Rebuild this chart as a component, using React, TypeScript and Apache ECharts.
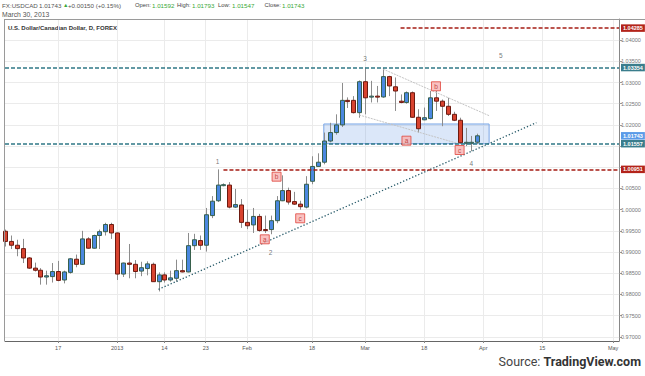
import { useEffect, useRef } from 'react';
import * as echarts from 'echarts';

// ---------- data ----------
const START = '2012-12-04';
const END = '2013-05-02';
const MISSING_DAYS = ['2012-12-25', '2013-01-01', '2013-03-11'];

function tradingDays(start: string, end: string, skip: string[]): string[] {
  const out: string[] = [];
  const d = new Date(start + 'T00:00:00Z');
  const e = new Date(end + 'T00:00:00Z');
  while (d <= e) {
    const wd = d.getUTCDay();
    const s = d.toISOString().slice(0, 10);
    if (wd !== 0 && wd !== 6 && skip.indexOf(s) < 0) out.push(s);
    d.setUTCDate(d.getUTCDate() + 1);
  }
  return out;
}
const dates = tradingDays(START, END, MISSING_DAYS);

const tickDates = ['2012-12-17', '2013-01-02', '2013-01-14', '2013-01-23', '2013-02-01', '2013-02-18', '2013-03-01', '2013-03-18', '2013-04-01', '2013-04-15', '2013-05-01'];
const tickLabels = ['17', '2013', '14', '23', 'Feb', '18', 'Mar', '18', 'Apr', '15', 'May'];

const yTicks = [0.97, 0.975, 0.98, 0.985, 0.99, 0.995, 1.0, 1.005, 1.01, 1.015, 1.02, 1.025, 1.03, 1.035, 1.04];
// tick labels hidden behind the price markers in the reference
const yLabelValues = [0.97, 0.975, 0.98, 0.985, 0.99, 0.995, 1.0, 1.005, 1.02, 1.025, 1.03, 1.035, 1.04];

const opens = [0.9949, 0.9925, 0.9916, 0.9908, 0.9886, 0.9862, 0.9857, 0.9841, 0.9842, 0.9854,
  0.9834, 0.9852, 0.9883, 0.9871, 0.9931, 0.9909, 0.9939, 0.9948, 0.9965, 0.9945,
  0.9848, 0.9874, 0.9871, 0.9855, 0.9861, 0.9871, 0.9830, 0.9846, 0.9834, 0.9838,
  0.9856, 0.9853, 0.9915, 0.9927, 0.9916, 0.9986, 1.0021, 1.0058, 1.0058, 1.0006,
  1.0011, 0.9970, 0.9964, 0.9984, 0.9953, 0.9953, 0.9974, 1.0021, 1.0045, 1.0019,
  1.0013, 1.0006, 1.0067, 1.0102, 1.0112, 1.0162, 1.0182, 1.0200, 1.0258, 1.0258,
  1.0229, 1.0302, 1.0266, 1.0268, 1.0266, 1.0314, 1.0290, 1.0256, 1.0253, 1.0276,
  1.0218, 1.0212, 1.0215, 1.0264, 1.0256, 1.0244, 1.0225, 1.0211, 1.0158, 1.0159,
  1.01592];
const closes = [0.9925, 0.9916, 0.9908, 0.9886, 0.9862, 0.9857, 0.9841, 0.9844, 0.9854, 0.9833,
  0.9853, 0.9884, 0.9871, 0.9931, 0.9909, 0.9939, 0.9948, 0.9965, 0.9945, 0.9848,
  0.9874, 0.9871, 0.9854, 0.9863, 0.9872, 0.9830, 0.9846, 0.9834, 0.9839, 0.9856,
  0.9853, 0.9915, 0.9929, 0.9916, 0.9988, 1.0020, 1.0058, 1.0059, 1.0006, 1.0012,
  0.9970, 0.9962, 0.9984, 0.9951, 0.9951, 0.9974, 1.0021, 1.0045, 1.0018, 1.0013,
  1.0007, 1.0060, 1.0102, 1.0112, 1.0162, 1.0182, 1.0200, 1.0258, 1.0255, 1.0229,
  1.0302, 1.0264, 1.0268, 1.0266, 1.0314, 1.0292, 1.0280, 1.0253, 1.0276, 1.0218,
  1.0191, 1.0217, 1.0264, 1.0256, 1.0244, 1.0225, 1.0211, 1.0158, 1.0159, 1.0159,
  1.01743];
const lows = [0.9913, 0.9907, 0.9890, 0.9874, 0.9860, 0.9854, 0.9823, 0.9823, 0.9828, 0.9831,
  0.9826, 0.9849, 0.9864, 0.9870, 0.9908, 0.9908, 0.9907, 0.9939, 0.9931, 0.9834,
  0.9841, 0.9838, 0.9838, 0.9843, 0.9845, 0.9830, 0.9807, 0.9828, 0.9830, 0.9830,
  0.9852, 0.9852, 0.9905, 0.9905, 0.9901, 0.9980, 1.0018, 1.0055, 1.0003, 1.0004,
  0.9957, 0.9954, 0.9945, 0.9948, 0.9945, 0.9942, 0.9968, 1.0020, 1.0012, 1.0011,
  1.0000, 1.0003, 1.0060, 1.0101, 1.0107, 1.0159, 1.0177, 1.0195, 1.0240, 1.0227,
  1.0217, 1.0225, 1.0253, 1.0253, 1.0264, 1.0268, 1.0233, 1.0251, 1.0250, 1.0217,
  1.0182, 1.0211, 1.0213, 1.0233, 1.0197, 1.0221, 1.0209, 1.01557, 1.0150, 1.0138,
  1.01547];
const highs = [0.9953, 0.9939, 0.9929, 0.9931, 0.9888, 0.9875, 0.9862, 0.9856, 0.9874, 0.9879,
  0.9856, 0.9886, 0.9894, 0.9950, 0.9935, 0.9941, 0.9953, 0.9969, 0.9969, 0.9946,
  0.9875, 0.9919, 0.9881, 0.9877, 0.9878, 0.9875, 0.9852, 0.9852, 0.9856, 0.9882,
  0.9882, 0.9945, 0.9943, 0.9939, 1.0004, 1.0032, 1.00951, 1.0062, 1.0065, 1.0049,
  1.0025, 1.0000, 1.0004, 0.9990, 0.9986, 0.9986, 1.0032, 1.0081, 1.0052, 1.0042,
  1.0021, 1.0079, 1.0126, 1.0133, 1.0182, 1.0205, 1.0225, 1.0299, 1.0265, 1.0268,
  1.0305, 1.03354, 1.0304, 1.0292, 1.0335, 1.0316, 1.0312, 1.0272, 1.0279, 1.0279,
  1.0237, 1.0241, 1.0280, 1.0280, 1.0260, 1.0264, 1.0231, 1.0217, 1.0193, 1.0174,
  1.01793];

// horizontal levels: value, start index (bar position)
const levelValues = [1.04285, 1.03354, 1.01557, 1.00951];
const levelStartIdx = [66.7, 0, 0, 36.8];
const levelKinds = ['red', 'teal', 'teal', 'red'];
const lastPrice = 1.01743;

// wave counts
const waveNames = ['1', '2', '3', '4', '5'];
const waveIdx = [36, 45, 61, 79, 84];
const wavePrice = [1.01132, 0.98984, 1.03556, 1.01078, 1.03627];

// corrective a-b-c markers
const abcNames = ['a', 'b', 'c', 'a', 'b', 'c'];
const abcIdx = [44, 46, 50, 68, 73, 77];
const abcPrice = [0.9930, 1.00778, 0.99796, 1.01628, 1.02912, 1.01408];

// drawn lines: [fromIdx, fromPrice, toIdx, toPrice]
const trendLine = [25.97, 0.9812, 89.77, 1.02053];
const wedgeUpper = [64.07, 1.0332, 81.86, 1.02218];
const wedgeLower = [60.01, 1.02234, 76.78, 1.0155];
const zoneBox = [53.81, 1.02022, 81.9, 1.01557];

// header quote
const headerSymbol = 'FX:USDCAD';
const headerChange = '+0.00150 (+0.15%)';
const headerFields = ['Open:', 'High:', 'Low:', 'Close:'];
const headerValues = ['1.01592', '1.01793', '1.01547', '1.01743'];

// ---------- styles ----------
const UP_FILL = '#4a88e0';
const UP_LINE = '#37604c';
const DN_FILL = '#d8432f';
const DN_LINE = '#6e1a10';
const WICK = '#8c8c8c';
const TEAL = '#2f7886';
const RED = '#a51d15';
const GREEN = '#3aa83a';
const FONT = '"Liberation Sans", Arial, sans-serif';

export default function App() {
  const ref = useRef<HTMLDivElement>(null);

  useEffect(() => {
    if (!ref.current) return;
    const chart = echarts.init(ref.current, undefined, { renderer: 'svg' });

    const candleData = opens.map((o, i) => [i, o, closes[i], lows[i], highs[i]]);
    const labelMap: Record<string, string> = {};
    tickDates.forEach((d, i) => { labelMap[d] = tickLabels[i]; });
    const isTick = (_i: number, v: string) => labelMap[v] !== undefined;

    const boxLabel = (text: string, bg: string) => ({
      show: true, position: 'end', distance: 2, formatter: text,
      backgroundColor: bg, color: '#fff', fontSize: 5.5, fontFamily: FONT,
      padding: [1, 2, 0.5, 2], lineHeight: 6, fontWeight: 'bold', opacity: 1,
    });

    const levelLines = levelValues.map((v, i) => {
      const col = levelKinds[i] === 'red' ? RED : TEAL;
      const bg = levelKinds[i] === 'red' ? '#b3231a' : '#3a7d8c';
      return [
        {
          coord: [levelStartIdx[i], v],
          lineStyle: { color: col, width: 1.6, type: [4, 2] },
          label: boxLabel(v.toFixed(5), bg),
        },
        { coord: [dates.length - 1, v] },
      ];
    });
    const lastLine = [
      {
        coord: [opens.length - 1, lastPrice],
        lineStyle: { color: 'rgba(0,0,0,0)', width: 1, type: 'solid' },
        label: boxLabel(lastPrice.toFixed(5), '#5b9be8'),
      },
      { coord: [dates.length - 1, lastPrice] },
    ];
    const seg = (a: number[], style: any) => [
      { coord: [a[0], a[1]], lineStyle: style, label: { show: false } },
      { coord: [a[2], a[3]] },
    ];

    const hdr = (x: number, text: string, fill: string, size: number) => ({
      type: 'text', x, y: 5,
      style: { text, fill, fontSize: size, fontFamily: FONT, verticalAlign: 'middle' },
    });
    const fieldX = [135, 177, 218, 264.5];
    const valueX = [152, 192, 232, 282];

    const option: any = {
      animation: false,
      grid: { left: 5, right: 26, top: 19, bottom: 35 },
      xAxis: {
        type: 'category',
        data: dates,
        boundaryGap: false,
        axisLine: { show: true, lineStyle: { color: '#666', width: 1 } },
        axisTick: { show: true, interval: isTick, length: 2, lineStyle: { color: '#888' } },
        axisLabel: {
          interval: isTick, formatter: (v: string) => labelMap[v] || '',
          fontSize: 5.5, color: '#555', margin: 4, fontFamily: FONT,
        },
        splitLine: { show: true, interval: isTick, lineStyle: { color: '#ebebeb', width: 1 } },
      },
      yAxis: {
        type: 'value',
        position: 'right',
        min: 0.969,
        max: 1.045,
        scale: true,
        axisLine: { show: true, lineStyle: { color: '#888', width: 1 } },
        axisTick: { show: true, length: 3, customValues: yTicks, lineStyle: { color: '#999' } },
        axisLabel: {
          customValues: yLabelValues, formatter: (v: number) => v.toFixed(5),
          fontSize: 5.5, color: '#777', margin: 2, fontFamily: FONT,
        },
        splitLine: { show: true, lineStyle: { color: '#ebebeb', width: 1 } },
      },
      series: [
        {
          type: 'custom',
          name: 'USDCAD',
          data: candleData,
          encode: { x: 0, y: [1, 2, 3, 4] },
          renderItem: (_p: any, api: any) => {
            const i = api.value(0);
            const o = api.value(1), c = api.value(2), l = api.value(3), h = api.value(4);
            const pO = api.coord([i, o]);
            const pC = api.coord([i, c]);
            const pL = api.coord([i, l]);
            const pH = api.coord([i, h]);
            const x = Math.round(pO[0]) + 0.5;
            const up = c >= o;
            const top = Math.min(pO[1], pC[1]);
            const bh = Math.max(1, Math.abs(pO[1] - pC[1]));
            return {
              type: 'group',
              children: [
                { type: 'line', shape: { x1: x, y1: pH[1], x2: x, y2: pL[1] }, style: { stroke: WICK, lineWidth: 1 } },
                {
                  type: 'rect', shape: { x: x - 2, y: top, width: 4, height: bh },
                  style: { fill: up ? UP_FILL : DN_FILL, stroke: up ? UP_LINE : DN_LINE, lineWidth: 1 },
                },
              ],
            };
          },
          markArea: {
            silent: true,
            data: [[
              { coord: [zoneBox[0], zoneBox[1]], itemStyle: { color: 'rgba(74,136,224,0.2)', borderColor: '#7aa6e6', borderWidth: 1 } },
              { coord: [zoneBox[2], zoneBox[3]] },
            ]],
          },
          z: 3,
        },
        {
          type: 'scatter',
          name: 'waves',
          data: waveIdx.map((x, i) => ({ value: [x, wavePrice[i]], name: waveNames[i] })),
          symbolSize: 0,
          label: { show: true, position: 'inside', formatter: (p: any) => p.name, fontSize: 6.5, color: '#555', fontFamily: FONT },
          markLine: {
            silent: true,
            symbol: ['none', 'none'],
            label: { show: false },
            data: [
              seg(trendLine, { color: '#2a5c6b', width: 1.3, type: [1.3, 2] }),
              seg(wedgeUpper, { color: '#c4c4c4', width: 1, type: [2, 1] }),
              seg(wedgeLower, { color: '#c4c4c4', width: 1, type: [2, 1] }),
              ...levelLines,
              lastLine,
            ],
          },
          z: 4,
        },
        {
          type: 'scatter',
          name: 'abc',
          data: abcIdx.map((x, i) => ({ value: [x, abcPrice[i]], name: abcNames[i] })),
          symbol: 'rect',
          symbolSize: [9, 9],
          itemStyle: { color: '#f7b2b0', borderColor: '#e0433b', borderWidth: 1 },
          label: { show: true, position: 'inside', formatter: (p: any) => p.name, fontSize: 6.5, color: '#b5261e', fontFamily: FONT },
          z: 5,
        },
      ],
      graphic: [
        { type: 'line', shape: { x1: 4, y1: 19.5, x2: 645, y2: 19.5 }, style: { stroke: '#9a9a9a', lineWidth: 1 }, z: 10 },
        { type: 'line', shape: { x1: 4.5, y1: 19, x2: 4.5, y2: 341 }, style: { stroke: '#9a9a9a', lineWidth: 1 }, z: 10 },
        hdr(2, headerSymbol, '#555', 6.2),
        hdr(39, headerValues[3], '#555', 6.2),
        hdr(63, '▲', GREEN, 5.5),
        hdr(68, headerChange, '#555', 6.2),
        ...headerFields.map((f, i) => hdr(fieldX[i], f, '#444', 5.8)),
        ...headerValues.map((v, i) => hdr(valueX[i], v, GREEN, 6.2)),
        { type: 'text', x: 2, y: 14, style: { text: 'March 30, 2013', fill: '#555', fontSize: 6.8, fontFamily: FONT, verticalAlign: 'middle' } },
        { type: 'text', x: 8, y: 27.5, style: { text: 'U.S. Dollar/Canadian Dollar, D, FOREX', fill: '#333', fontSize: 6, fontWeight: 'bold', fontFamily: FONT, verticalAlign: 'middle' } },
        {
          type: 'text', x: 641, y: 361,
          style: {
            text: '{a|Source: }{b|TradingView.com}', align: 'right', verticalAlign: 'middle',
            rich: {
              a: { fontSize: 12.5, fontFamily: 'Roboto, sans-serif', fill: '#444' },
              b: { fontSize: 12.5, fontFamily: 'Roboto, sans-serif', fontWeight: 'bold', fill: '#333' },
            },
          },
        },
      ],
    };

    chart.setOption(option);
    return () => chart.dispose();
  }, []);

  return <div ref={ref} style={{ width: 645, height: 376, position: 'absolute', left: 0, top: 0 }} />;
}
